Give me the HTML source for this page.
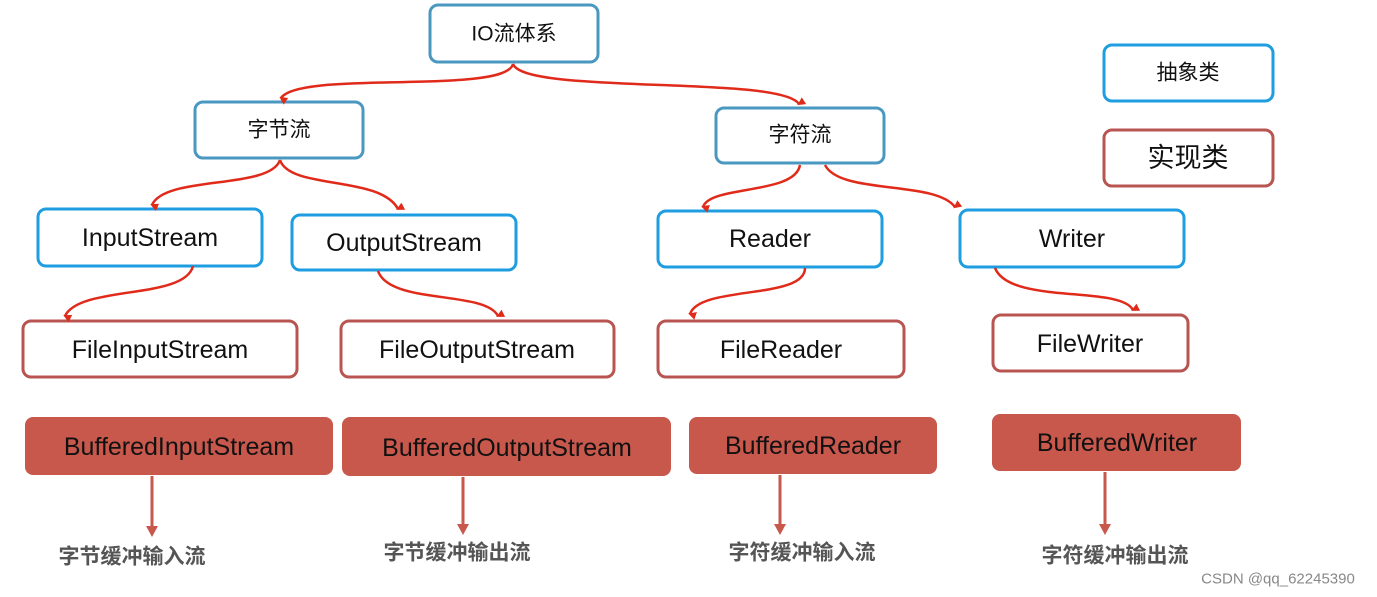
<!DOCTYPE html>
<html><head><meta charset="utf-8"><style>
html,body{margin:0;padding:0;background:#fff;width:1377px;height:597px;overflow:hidden}
svg text{font-family:"Liberation Sans","Noto Sans CJK SC",sans-serif;text-anchor:middle;dominant-baseline:central}
</style></head><body>
<svg width="1377" height="597" viewBox="0 0 1377 597" xmlns="http://www.w3.org/2000/svg">
<defs>
<marker id="a" markerWidth="8" markerHeight="8" refX="4" refY="6" orient="auto" markerUnits="userSpaceOnUse" viewBox="0 0 8 8"><path d="M0,0 L4,8 L8,0 Z" fill="#e02a1a"/></marker>
</defs>
<g fill="#fff" stroke-width="3">
<rect x="430" y="5" width="168" height="57" rx="8" stroke="#4a98c0"/>
<rect x="195" y="102" width="168" height="56" rx="8" stroke="#4a98c0"/>
<rect x="716" y="108" width="168" height="55" rx="8" stroke="#4a98c0"/>
<rect x="38" y="209" width="224" height="57" rx="8" stroke="#1e9ee0"/>
<rect x="292" y="215" width="224" height="55" rx="8" stroke="#1e9ee0"/>
<rect x="658" y="211" width="224" height="56" rx="8" stroke="#1e9ee0"/>
<rect x="960" y="210" width="224" height="57" rx="8" stroke="#1e9ee0"/>
<rect x="1104" y="45" width="169" height="56" rx="8" stroke="#1e9ee0"/>
<rect x="1104" y="130" width="169" height="56" rx="8" stroke="#b85550"/>
<rect x="23" y="321" width="274" height="56" rx="8" stroke="#b85550"/>
<rect x="341" y="321" width="273" height="56" rx="8" stroke="#b85550"/>
<rect x="658" y="321" width="246" height="56" rx="8" stroke="#b85550"/>
<rect x="993" y="315" width="195" height="56" rx="8" stroke="#b85550"/>
</g>
<g fill="#c8574c">
<rect x="25" y="417" width="308" height="58" rx="8"/>
<rect x="342" y="417" width="329" height="59" rx="8"/>
<rect x="689" y="417" width="248" height="57" rx="8"/>
<rect x="992" y="414" width="249" height="57" rx="8"/>
</g>
<g fill="none" stroke="#e02a1a" stroke-width="2.5" marker-end="url(#a)">
<path d="M513,64 C505,95 300,70 281,98"/>
<path d="M513,64 C525,95 780,75 799,104"/>
<path d="M280,160 C270,190 165,175 152,205"/>
<path d="M280,160 C290,190 380,175 398,209"/>
<path d="M800,165 C795,195 710,185 703,207"/>
<path d="M825,165 C840,195 935,180 955,207"/>
<path d="M193,266 C185,300 80,285 65,316"/>
<path d="M378,271 C390,305 485,290 498,316"/>
<path d="M805,268 C805,300 700,285 690,314"/>
<path d="M995,268 C1010,305 1120,285 1133,310"/>
</g>
<g stroke="#c8574c" stroke-width="3" fill="none">
<path d="M152,476 V528"/><path d="M463,477 V526"/><path d="M780,475 V526"/><path d="M1105,472 V526"/>
</g>
<g fill="#c8574c">
<path d="M146,526 L158,526 L152,537 Z"/><path d="M457,524 L469,524 L463,535 Z"/><path d="M774,524 L786,524 L780,535 Z"/><path d="M1099,524 L1111,524 L1105,535 Z"/>
</g>
<g fill="#111" font-size="21">
<text x="514" y="34">IO流体系</text>
<text x="279" y="130">字节流</text>
<text x="800" y="135">字符流</text>
<text x="1188" y="73">抽象类</text>
</g>
<text x="1188" y="158" font-size="27" fill="#111">实现类</text>
<g fill="#111" font-size="25">
<text x="150" y="238">InputStream</text>
<text x="404" y="243">OutputStream</text>
<text x="770" y="239">Reader</text>
<text x="1072" y="239">Writer</text>
<text x="160" y="350">FileInputStream</text>
<text x="477" y="350">FileOutputStream</text>
<text x="781" y="350">FileReader</text>
<text x="1090" y="344">FileWriter</text>
<text x="179" y="447">BufferedInputStream</text>
<text x="507" y="448">BufferedOutputStream</text>
<text x="813" y="446">BufferedReader</text>
<text x="1117" y="443">BufferedWriter</text>
</g>
<g fill="#555" font-size="21" font-weight="bold">
<text x="132" y="557">字节缓冲输入流</text>
<text x="457" y="553">字节缓冲输出流</text>
<text x="802" y="553">字符缓冲输入流</text>
<text x="1115" y="556">字符缓冲输出流</text>
</g>
<text x="1278" y="579" font-size="15" fill="#888">CSDN @qq_62245390</text>
</svg>
</body></html>
